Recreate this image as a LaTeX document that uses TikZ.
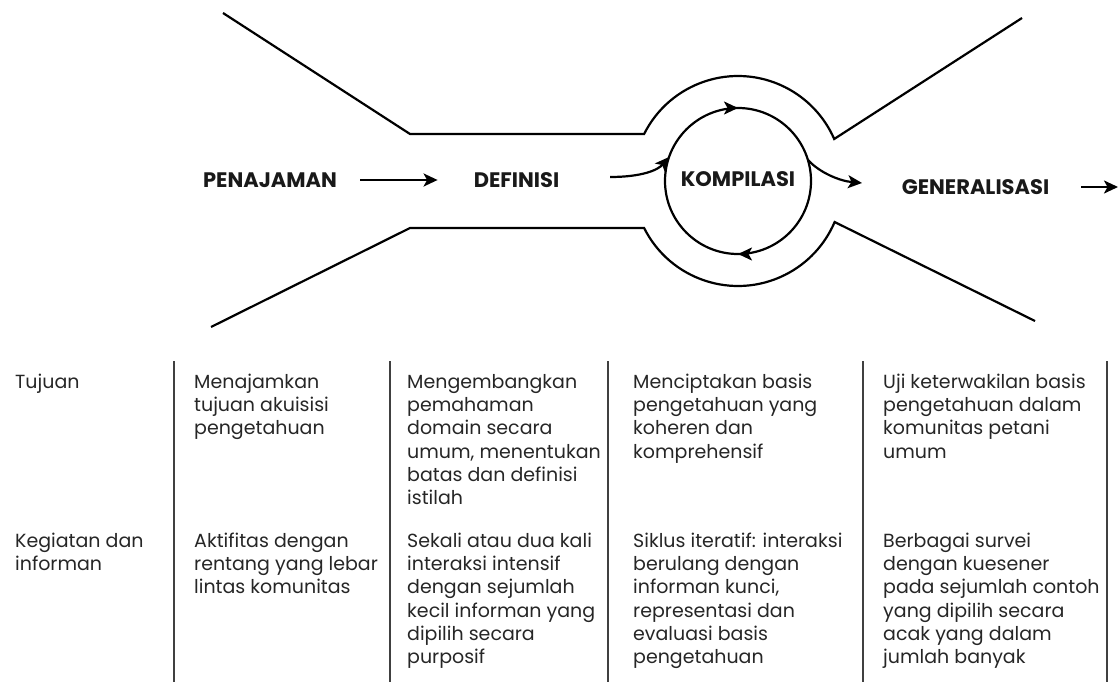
\documentclass[tikz,border=0pt]{standalone}
\usepackage{fontspec}
\setmainfont{Poppins}
\usetikzlibrary{arrows.meta,decorations.markings,calc}
\newcommand{\firststrut}{\rule{0pt}{16pt}}
\begin{document}
\begin{tikzpicture}[x=1pt,y=-1pt,
  funnel/.style={line width=2.2pt, line join=miter},
  tip/.style={Stealth[length=14pt,width=13pt,inset=3.5pt]},
  arr/.style={-{Stealth[length=14pt,width=13pt,inset=3.5pt]}, line width=2.2pt},
  head/.style={font=\bfseries\fontsize{21}{25}\selectfont, inner sep=0pt, text=black!90},
  cell/.style={font=\fontsize{19}{23.3}\selectfont, anchor=north west, align=left, inner sep=0pt, text=black!85},
  colrule/.style={line width=2.2pt, draw=black!75}]
\useasboundingbox (0,0) rectangle (1118,682);

% funnel outline
\draw[funnel] (223,13) -- (410,134) -- (644.1,134)
  arc[start angle=206.6,end angle=336.4,radius=105] -- (1022,18);
\draw[funnel] (211,327) -- (410,228) -- (644.1,228)
  arc[start angle=153.4,end angle=23.0,radius=105] -- (1035,321);

% stage labels
\coordinate (c) at (738,181);
\node[head] (pen) at (270,180) {PENAJAMAN};
\node[head] (def) at (516.5,180) {DEFINISI};
\node[head] (kom) at (738,179) {KOMPILASI};
\node[head] (gen) at (975.5,187) {GENERALISASI};

% inner cycle
\draw[line width=2.2pt, postaction={decorate}, decoration={markings,
    mark=at position 0.25 with {\arrow{Stealth[length=14pt,width=13pt,inset=3.5pt]}},
    mark=at position 0.75 with {\arrow{Stealth[length=14pt,width=13pt,inset=3.5pt]}}}]
  (c) circle[radius=73];

% connectors
\draw[arr] ($(pen.east)+(23,0)$) -- ($(def.west)+(-36,0)$);
\coordinate (e1) at (610,177);
\coordinate (e2) at ($(c)+(-69,-24)$);
\draw[arr] (e1) .. controls (642,177) and (658,170) .. (e2);
\coordinate (x1) at ($(c)+(70,-21)$);
\coordinate (x2) at (862,183);
\draw[arr] (x1) .. controls (820,173) and (840,181) .. (x2);
\coordinate (out) at (1118,187);
\draw[arr] ($(gen.east)+(32,0)$) -- (out);

% table rules
\foreach \xx/\nm in {174/r1,390/r2,608/r3,863/r4,1107/r5}{
  \coordinate (\nm t) at (\xx,361);
  \coordinate (\nm b) at (\xx,682);
  \draw[colrule] (\nm t) -- (\nm b);
}

% row 1
\node[cell] (t1) at (15,372) {\firststrut Tujuan};
\node[cell] (t2) at (194,372) {\firststrut Menajamkan\\tujuan akuisisi\\pengetahuan};
\node[cell] (t3) at (407,372) {\firststrut Mengembangkan\\pemahaman\\domain secara\\umum, menentukan\\batas dan definisi\\istilah};
\node[cell] (t4) at (633,372) {\firststrut Menciptakan basis\\pengetahuan yang\\koheren dan\\komprehensif};
\node[cell] (t5) at (883,372) {\firststrut Uji keterwakilan basis\\pengetahuan dalam\\komunitas petani\\umum};

% row 2
\node[cell] (k1) at (15,531) {\firststrut Kegiatan dan\\informan};
\node[cell] (k2) at (194,531) {\firststrut Aktifitas dengan\\rentang yang lebar\\lintas komunitas};
\node[cell] (k3) at (407,531) {\firststrut Sekali atau dua kali\\interaksi intensif\\dengan sejumlah\\kecil informan yang\\dipilih secara\\purposif};
\node[cell] (k4) at (633,531) {\firststrut Siklus iteratif: interaksi\\berulang dengan\\informan kunci,\\representasi dan\\evaluasi basis\\pengetahuan};
\node[cell] (k5) at (883,531) {\firststrut Berbagai survei\\dengan kuesener\\pada sejumlah contoh\\yang dipilih secara\\acak yang dalam\\jumlah banyak};
\end{tikzpicture}
\end{document}
